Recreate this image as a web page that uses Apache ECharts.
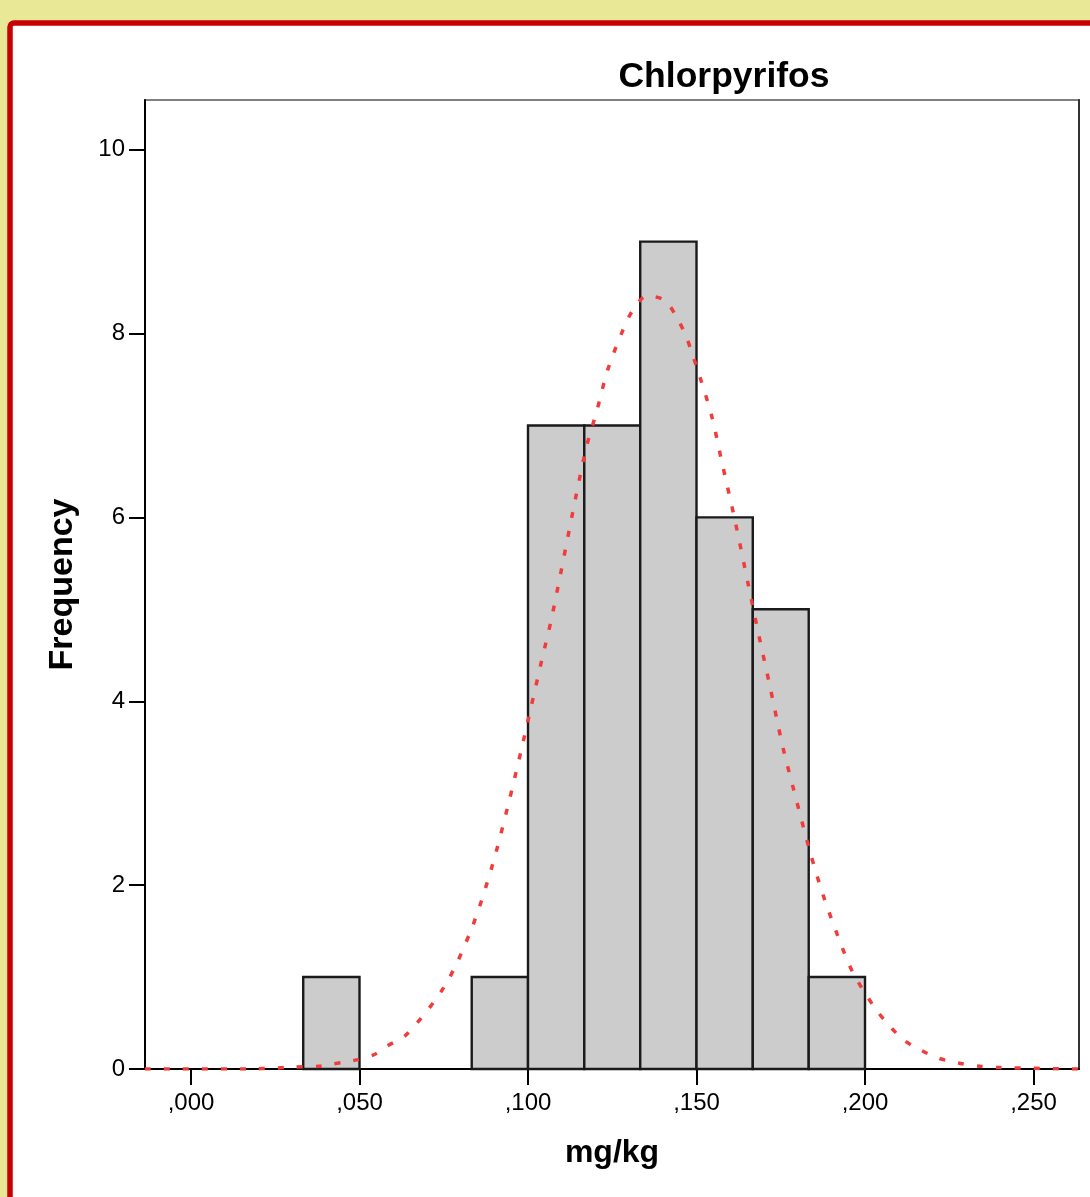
<!DOCTYPE html>
<html>
<head>
<meta charset="utf-8">
<script src="https://cdn.jsdelivr.net/npm/echarts@6/dist/echarts.min.js"></script>
<style>
html,body{margin:0;padding:0;background:#e8e896;}
#c{width:1090px;height:1197px;}
</style>
</head>
<body>
<div id="c"></div>
<script>
// ---- data ----
var titleText = 'Chlorpyrifos';
var xName = 'mg/kg';
var yName = 'Frequency';
var binLo = [0.0333, 0.0833, 0.1000, 0.1167, 0.1333, 0.1500, 0.1667, 0.1833];
var binHi = [0.0500, 0.1000, 0.1167, 0.1333, 0.1500, 0.1667, 0.1833, 0.2000];
var counts = [1, 1, 7, 7, 9, 6, 5, 1];
var xTickValues = [0, 0.05, 0.10, 0.15, 0.20, 0.25];
var xTickLabels = [',000', ',050', ',100', ',150', ',200', ',250'];
var yTickValues = [0, 2, 4, 6, 8, 10];
var yTickLabels = ['0', '2', '4', '6', '8', '10'];
// normal curve
var curveX = [-0.0137, 0.0175, 0.0300, 0.0380, 0.0412, 0.0480, 0.0540, 0.0582, 0.0641, 0.0754, 0.0834, 0.0893, 0.0941, 0.0985, 0.1041, 0.1071, 0.1169, 0.1205, 0.1237, 0.1282, 0.1309, 0.1353, 0.1406, 0.1442, 0.1469, 0.1490, 0.1510, 0.1546, 0.1573, 0.1614, 0.1653, 0.1679, 0.1718, 0.1757, 0.1789, 0.1837, 0.1875, 0.1917, 0.1964, 0.2030, 0.2068, 0.2113, 0.2163, 0.2216, 0.2276, 0.2341, 0.2400, 0.2635];
var curveY = [0.00, 0.00, 0.02, 0.03, 0.05, 0.09, 0.15, 0.25, 0.38, 0.91, 1.54, 2.20, 2.87, 3.55, 4.45, 4.92, 6.70, 7.17, 7.61, 8.04, 8.24, 8.41, 8.36, 8.17, 7.97, 7.75, 7.53, 7.09, 6.64, 5.97, 5.28, 4.82, 4.16, 3.49, 3.03, 2.36, 1.90, 1.47, 1.05, 0.66, 0.49, 0.32, 0.21, 0.12, 0.065, 0.03, 0.015, 0.00];
var xMin = -0.01365, xMax = 0.2635, yMin = 0, yMax = 10.54;

var barData = binLo.map(function (lo, i) { return [lo, binHi[i], counts[i]]; });
var curveData = curveX.map(function (x, i) { return [x, curveY[i]]; });

var FONT = '"Liberation Sans", Arial, sans-serif';
var chart = echarts.init(document.getElementById('c'), null, {renderer: 'canvas'});
chart.setOption({
  backgroundColor: '#e8e896',
  animation: false,
  graphic: [
    {type: 'rect', z: -10, shape: {x: 10, y: 23, width: 1200, height: 1300, r: 4},
     style: {fill: '#ffffff', stroke: '#c80000', lineWidth: 5.5}},
    {type: 'text', z: 10, x: 724, y: 77,
     style: {text: titleText, font: 'bold 35.5px ' + FONT, fill: '#000', textAlign: 'center', textVerticalAlign: 'middle'}}
  ],
  grid: {left: 145, top: 100, right: 11, bottom: 128, show: true, borderColor: '#808080', borderWidth: 2, backgroundColor: '#ffffff', containLabel: false},
  xAxis: {
    type: 'value', min: xMin, max: xMax,
    name: xName, nameLocation: 'middle', nameGap: 68,
    nameTextStyle: {fontFamily: FONT, fontSize: 32, fontWeight: 'bold', color: '#000'},
    axisLine: {show: true, onZero: false, lineStyle: {color: '#000', width: 2}},
    axisTick: {show: true, inside: false, length: 16, lineStyle: {color: '#000', width: 2}, customValues: xTickValues},
    axisLabel: {show: true, margin: 22, fontFamily: FONT, fontSize: 24, color: '#000', customValues: xTickValues,
      formatter: function (v) { var i = xTickValues.findIndex(function (t) { return Math.abs(t - v) < 1e-9; }); return i >= 0 ? xTickLabels[i] : ''; }},
    splitLine: {show: false}
  },
  yAxis: [{
    type: 'value', min: yMin, max: yMax, position: 'left',
    name: yName, nameLocation: 'middle', nameGap: 65, nameRotate: 90,
    nameTextStyle: {fontFamily: FONT, fontSize: 34, fontWeight: 'bold', color: '#000'},
    axisLine: {show: true, onZero: false, lineStyle: {color: '#000', width: 2}},
    axisTick: {show: true, inside: false, length: 16, lineStyle: {color: '#000', width: 2}, customValues: yTickValues},
    axisLabel: {show: true, margin: 20, padding: [5, 0, 0, 0], fontFamily: FONT, fontSize: 24, color: '#000', customValues: yTickValues,
      formatter: function (v) { var i = yTickValues.indexOf(v); return i >= 0 ? yTickLabels[i] : ''; }},
    splitLine: {show: false}
  }, {
    type: 'value', min: yMin, max: yMax, position: 'right',
    axisLine: {show: true, onZero: false, lineStyle: {color: '#333', width: 2}},
    axisTick: {show: false}, axisLabel: {show: false}, splitLine: {show: false}
  }],
  series: [{
    type: 'custom',
    z: 2,
    data: barData,
    encode: {x: [0, 1], y: 2},
    renderItem: function (params, api) {
      var p0 = api.coord([api.value(0), api.value(2)]);
      var p1 = api.coord([api.value(1), 0]);
      return {type: 'rect', shape: {x: p0[0], y: p0[1], width: p1[0] - p0[0], height: p1[1] - p0[1]},
        style: {fill: '#cccccc', stroke: '#1a1a1a', lineWidth: 2.4}};
    }
  }, {
    type: 'line',
    z: 5,
    data: curveData,
    showSymbol: false,
    smooth: 0.3,
    lineStyle: {color: '#f23c3c', width: 3.5, type: [6, 13]}
  }]
});
</script>
</body>
</html>
